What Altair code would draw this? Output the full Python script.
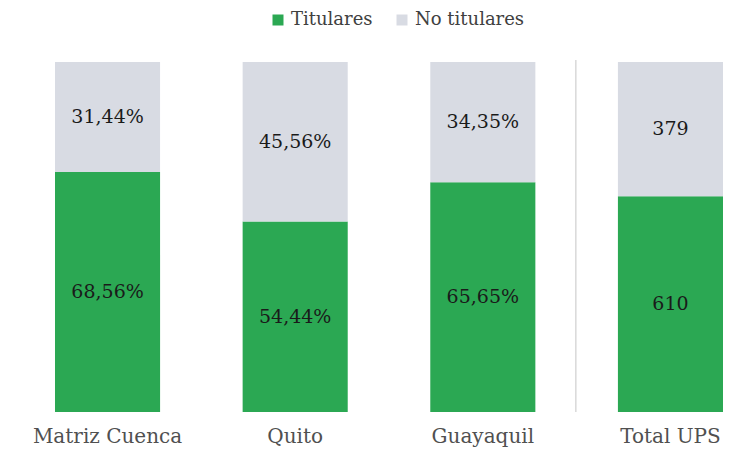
import altair as alt
import pandas as pd

categories = ["Matriz Cuenca", "Quito", "Guayaquil", "Total UPS"]
series = ["Titulares", "No titulares"]
titulares = [68.56, 54.44, 65.65, 610]
no_titulares = [31.44, 45.56, 34.35, 379]
titulares_labels = ["68,56%", "54,44%", "65,65%", "610"]
no_titulares_labels = ["31,44%", "45,56%", "34,35%", "379"]
colors = ["#2BA853", "#D8DBE3"]

rows = []
for i, c in enumerate(categories):
    rows.append(dict(cat=c, serie=series[0], value=titulares[i], label=titulares_labels[i], ord=0))
    rows.append(dict(cat=c, serie=series[1], value=no_titulares[i], label=no_titulares_labels[i], ord=1))
df = pd.DataFrame(rows)

FONT = "DejaVu Serif"
xscale = alt.Scale(domain=categories, range=[47, 715], paddingInner=0.44, paddingOuter=0)
yscale = alt.Scale(domain=[0, 1], nice=False)

base = alt.Chart(df)

bars = base.mark_bar().encode(
    x=alt.X("cat:N", scale=xscale, sort=categories,
            axis=alt.Axis(title=None, ticks=False, domain=False, labelAngle=0,
                          labelFontSize=20, labelFont=FONT, labelColor="#505050",
                          labelPadding=14, grid=False, labelAlign="center")),
    y=alt.Y("value:Q", stack="normalize", scale=yscale, axis=None),
    color=alt.Color("serie:N", scale=alt.Scale(domain=series, range=colors),
                    legend=alt.Legend(title=None, orient="none", direction="horizontal",
                                      legendX=261, legendY=-51, symbolType="square",
                                      symbolSize=121, symbolStrokeWidth=0,
                                      labelFont=FONT, labelFontSize=18, labelColor="#404040",
                                      labelOffset=4, columnPadding=20, padding=0)),
    order=alt.Order("ord:Q", sort="ascending"),
)

texts = base.transform_joinaggregate(
    total="sum(value)", groupby=["cat"]
).transform_calculate(
    frac="datum.value / datum.total"
).transform_window(
    cum="sum(frac)", sort=[alt.SortField("ord")], groupby=["cat"]
).transform_calculate(
    mid="datum.cum - datum.frac / 2"
).mark_text(font=FONT, fontSize=19, color="#1a1a1a", baseline="middle").encode(
    x=alt.X("cat:N", scale=xscale, sort=categories),
    y=alt.Y("mid:Q", scale=yscale, axis=None),
    text="label:N",
)

sep_df = pd.DataFrame({"cat": ["Guayaquil"]})
sep = alt.Chart(sep_df).mark_rule(color="#D9D9D9", strokeWidth=1.5, xOffset=93).encode(
    x=alt.X("cat:N", scale=xscale, sort=categories),
    y=alt.value(-2),
    y2=alt.value(350),
)

chart = alt.layer(bars, texts, sep).properties(
    width=716, height=350,
    autosize=alt.AutoSizeParams(type="none"),
    padding={"left": 0, "right": 0, "top": 54, "bottom": 35},
).configure(background="white", font=FONT).configure_view(stroke=None)

chart.save("out.html", embed_options={"renderer": "svg", "actions": False})
